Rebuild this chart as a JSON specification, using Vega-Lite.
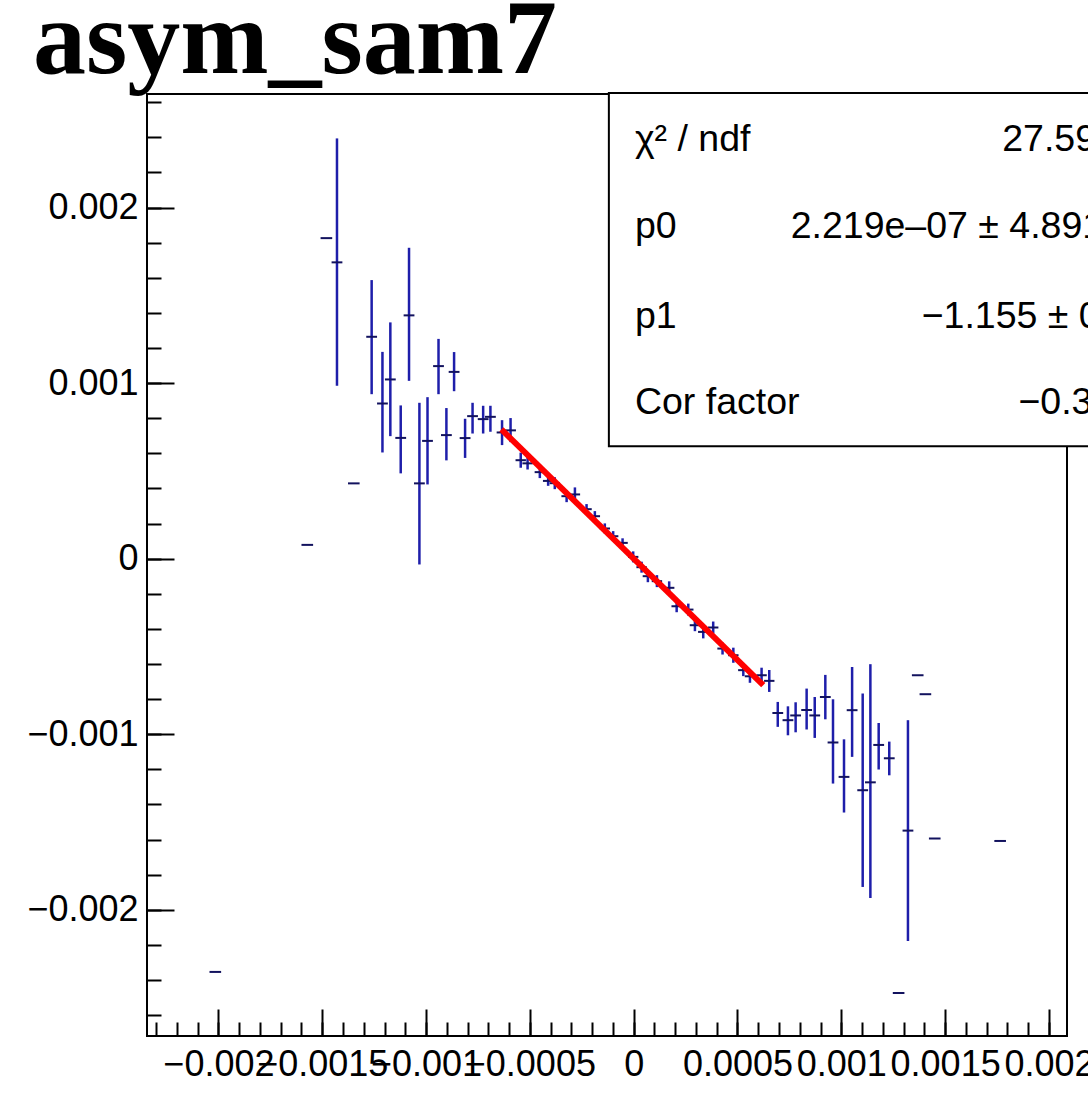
{
  "$schema": "https://vega.github.io/schema/vega-lite/v6.json",
  "width": 920,
  "height": 942,
  "autosize": "none",
  "padding": {"left": 147, "top": 94, "right": 21, "bottom": 67},
  "background": "white",
  "config": {
    "view": {"stroke": "black", "strokeWidth": 2},
    "axis": {"labelFont": "Liberation Sans", "labelFontSize": 36, "labelColor": "black", "tickColor": "black", "tickWidth": 2, "domain": false, "grid": false, "labelOverlap": false, "labelBound": false, "labelFlush": false}
  },
  "title": {"text": "asym_sam7", "font": "Liberation Serif", "fontWeight": "bold", "fontSize": 106, "color": "black", "anchor": "start", "frame": "group", "dx": -114, "offset": -3},
  "datasets": {
    "pts": [
      {"x": -0.002015, "y": -0.002354, "yt": -0.002354, "yb": -0.002354, "xe": 0.000028},
      {"x": -0.001572, "y": 0.0000786, "yt": 0.0000786, "yb": 0.0000786, "xe": 0.000028},
      {"x": -0.00148, "y": 0.001826, "yt": 0.001826, "yb": 0.001826, "xe": 0.000028},
      {"x": -0.001429, "y": 0.001688, "yt": 0.002394, "yb": 0.000985, "xe": 0.000026},
      {"x": -0.001348, "y": 0.000429, "yt": 0.000429, "yb": 0.000429, "xe": 0.000028},
      {"x": -0.001262, "y": 0.001264, "yt": 0.001587, "yb": 0.000937, "xe": 0.000026},
      {"x": -0.00121, "y": 0.000884, "yt": 0.001178, "yb": 0.000605, "xe": 0.000026},
      {"x": -0.001172, "y": 0.001021, "yt": 0.001346, "yb": 0.000698, "xe": 0.000026},
      {"x": -0.001122, "y": 0.000688, "yt": 0.000873, "yb": 0.000486, "xe": 0.000026},
      {"x": -0.001082, "y": 0.001386, "yt": 0.001771, "yb": 0.001013, "xe": 0.000026},
      {"x": -0.001032, "y": 0.000429, "yt": 0.000888, "yb": -0.000033, "xe": 0.000026},
      {"x": -0.000993, "y": 0.000671, "yt": 0.00092, "yb": 0.000423, "xe": 0.000026},
      {"x": -0.00094, "y": 0.001097, "yt": 0.001252, "yb": 0.000937, "xe": 0.000026},
      {"x": -0.000902, "y": 0.000704, "yt": 0.000858, "yb": 0.00056, "xe": 0.000026},
      {"x": -0.000865, "y": 0.001064, "yt": 0.001177, "yb": 0.000954, "xe": 0.000026},
      {"x": -0.000812, "y": 0.000687, "yt": 0.000797, "yb": 0.000574, "xe": 0.000026},
      {"x": -0.000776, "y": 0.000812, "yt": 0.000888, "yb": 0.000713, "xe": 0.000026},
      {"x": -0.000725, "y": 0.000795, "yt": 0.000871, "yb": 0.000713, "xe": 0.000026},
      {"x": -0.00069, "y": 0.000808, "yt": 0.000871, "yb": 0.000723, "xe": 0.000026},
      {"x": -0.000634, "y": 0.000719, "yt": 0.000789, "yb": 0.000647, "xe": 0.000026},
      {"x": -0.000593, "y": 0.000731, "yt": 0.000801, "yb": 0.000664, "xe": 0.000026},
      {"x": -0.000544, "y": 0.000561, "yt": 0.000604, "yb": 0.000518, "xe": 0.000025},
      {"x": -0.000511, "y": 0.000543, "yt": 0.000577, "yb": 0.000508, "xe": 0.000025},
      {"x": -0.000452, "y": 0.000493, "yt": 0.000527, "yb": 0.000459, "xe": 0.000025},
      {"x": -0.000412, "y": 0.000443, "yt": 0.000472, "yb": 0.000415, "xe": 0.000025},
      {"x": -0.00038, "y": 0.00043, "yt": 0.000464, "yb": 0.000396, "xe": 0.000025},
      {"x": -0.000323, "y": 0.000356, "yt": 0.00039, "yb": 0.000322, "xe": 0.000025},
      {"x": -0.000283, "y": 0.000366, "yt": 0.000406, "yb": 0.000326, "xe": 0.000025},
      {"x": -0.000227, "y": 0.000282, "yt": 0.000311, "yb": 0.000254, "xe": 0.000025},
      {"x": -0.000187, "y": 0.000242, "yt": 0.000271, "yb": 0.000214, "xe": 0.000025},
      {"x": -0.000139, "y": 0.000172, "yt": 0.000201, "yb": 0.000144, "xe": 0.000025},
      {"x": -0.0000988, "y": 0.000128, "yt": 0.000157, "yb": 0.0000997, "xe": 0.000025},
      {"x": -0.0000535, "y": 0.00009, "yt": 0.000116, "yb": 0.0000644, "xe": 0.000025},
      {"x": -0.0000024, "y": 0.0000103, "yt": 0.0000416, "yb": -0.000021, "xe": 0.000025},
      {"x": 0.0000381, "y": -0.0000484, "yt": -0.0000171, "yb": -0.0000797, "xe": 0.000025},
      {"x": 0.0000684, "y": -0.0000997, "yt": -0.0000655, "yb": -0.000134, "xe": 0.000025},
      {"x": 0.000112, "y": -0.000128, "yt": -0.0000938, "yb": -0.000162, "xe": 0.000025},
      {"x": 0.000171, "y": -0.000166, "yt": -0.000129, "yb": -0.000203, "xe": 0.000025},
      {"x": 0.000207, "y": -0.000271, "yt": -0.000237, "yb": -0.000305, "xe": 0.000025},
      {"x": 0.000263, "y": -0.00029, "yt": -0.000256, "yb": -0.000324, "xe": 0.000025},
      {"x": 0.000295, "y": -0.000379, "yt": -0.000345, "yb": -0.000413, "xe": 0.000025},
      {"x": 0.000335, "y": -0.000417, "yt": -0.00038, "yb": -0.000454, "xe": 0.000025},
      {"x": 0.000383, "y": -0.000392, "yt": -0.000358, "yb": -0.000426, "xe": 0.000025},
      {"x": 0.000428, "y": -0.000512, "yt": -0.000478, "yb": -0.000546, "xe": 0.000025},
      {"x": 0.00048, "y": -0.00055, "yt": -0.000507, "yb": -0.000593, "xe": 0.000025},
      {"x": 0.000528, "y": -0.000635, "yt": -0.000601, "yb": -0.000669, "xe": 0.000025},
      {"x": 0.00056, "y": -0.00067, "yt": -0.000633, "yb": -0.000707, "xe": 0.000025},
      {"x": 0.000616, "y": -0.000664, "yt": -0.000621, "yb": -0.000707, "xe": 0.000025},
      {"x": 0.000653, "y": -0.000696, "yt": -0.000634, "yb": -0.000759, "xe": 0.000025},
      {"x": 0.000694, "y": -0.000879, "yt": -0.000816, "yb": -0.000958, "xe": 0.000026},
      {"x": 0.000743, "y": -0.00092, "yt": -0.000841, "yb": -0.001006, "xe": 0.000026},
      {"x": 0.00078, "y": -0.000893, "yt": -0.000818, "yb": -0.000989, "xe": 0.000026},
      {"x": 0.000833, "y": -0.000862, "yt": -0.00074, "yb": -0.000973, "xe": 0.000026},
      {"x": 0.000872, "y": -0.000893, "yt": -0.000788, "yb": -0.001021, "xe": 0.000026},
      {"x": 0.000923, "y": -0.000788, "yt": -0.000662, "yb": -0.000915, "xe": 0.000026},
      {"x": 0.00096, "y": -0.001047, "yt": -0.000801, "yb": -0.001281, "xe": 0.000026},
      {"x": 0.001013, "y": -0.001243, "yt": -0.001029, "yb": -0.001446, "xe": 0.000026},
      {"x": 0.001052, "y": -0.000863, "yt": -0.000617, "yb": -0.001129, "xe": 0.000026},
      {"x": 0.001103, "y": -0.001319, "yt": -0.000768, "yb": -0.00187, "xe": 0.000026},
      {"x": 0.00114, "y": -0.001274, "yt": -0.000601, "yb": -0.001933, "xe": 0.000026},
      {"x": 0.00118, "y": -0.001061, "yt": -0.000936, "yb": -0.001201, "xe": 0.000026},
      {"x": 0.001231, "y": -0.001137, "yt": -0.001042, "yb": -0.001234, "xe": 0.000026},
      {"x": 0.001276, "y": -0.002474, "yt": -0.002474, "yb": -0.002474, "xe": 0.000028},
      {"x": 0.001321, "y": -0.001549, "yt": -0.00092, "yb": -0.002178, "xe": 0.000026},
      {"x": 0.001368, "y": -0.000664, "yt": -0.000664, "yb": -0.000664, "xe": 0.000028},
      {"x": 0.001405, "y": -0.000772, "yt": -0.000772, "yb": -0.000772, "xe": 0.000028},
      {"x": 0.00145, "y": -0.001594, "yt": -0.001594, "yb": -0.001594, "xe": 0.000028},
      {"x": 0.001765, "y": -0.001608, "yt": -0.001608, "yb": -0.001608, "xe": 0.000028}
    ],
    "fit": [
      {"fx": -0.000637, "fy": 0.000736},
      {"fx": 0.000624, "fy": -0.0007205}
    ],
    "box": [
      {"bx": -0.0001195, "bx2": 0.0026, "by": 0.002652, "by2": 0.000641}
    ],
    "stats": [
      {"label": "χ² / ndf", "lx": 0.0000058, "ly": 0.0023846, "val": "27.59 / 27", "vx": 0.001775},
      {"label": "p0", "lx": 0.0000058, "ly": 0.0018906, "val": "2.219e–07 ± 4.891e–05", "vx": 0.000756},
      {"label": "p1", "lx": 0.0000058, "ly": 0.0013778, "val": "−1.155 ± 0.03", "vx": 0.001387},
      {"label": "Cor factor", "lx": 0.0000058, "ly": 0.0008843, "val": "−0.3", "vx": 0.001853}
    ]
  },
  "resolve": {"axis": {"x": "independent", "y": "independent"}},
  "layer": [
    {
      "data": {"name": "pts"},
      "mark": {"type": "rule", "color": "#1e1eaa", "strokeWidth": 2.5},
      "encoding": {
        "x": {"field": "x", "type": "quantitative", "scale": {"domain": [-0.002344, 0.002087], "nice": false, "zero": false},
          "axis": {"orient": "bottom", "title": null, "values": [-0.002, -0.0015, -0.001, -0.0005, 0, 0.0005, 0.001, 0.0015, 0.002], "format": ".4~f", "tickSize": -27, "labelPadding": 38}},
        "y": {"field": "yt", "type": "quantitative", "scale": {"domain": [-0.002719, 0.002647], "nice": false, "zero": false},
          "axis": {"orient": "left", "title": null, "values": [-0.002, -0.001, 0, 0.001, 0.002], "format": ".3~f", "tickSize": -27, "labelPadding": 36}},
        "y2": {"field": "yb"}
      }
    },
    {
      "data": {"name": "pts"},
      "mark": {"type": "errorbar", "color": "#12125e", "thickness": 2},
      "encoding": {
        "x": {"field": "x", "type": "quantitative", "axis": null},
        "xError": {"field": "xe"},
        "y": {"field": "y", "type": "quantitative", "axis": null}
      }
    },
    {
      "data": {"name": "fit"},
      "mark": {"type": "line", "color": "#ff0000", "strokeWidth": 6},
      "encoding": {
        "x": {"field": "fx", "type": "quantitative",
          "axis": {"orient": "bottom", "title": null, "labels": false, "tickSize": -14, "values": [-0.0023, -0.0022, -0.0021, -0.002, -0.0019, -0.0018, -0.0017, -0.0016, -0.0015, -0.0014, -0.0013, -0.0012, -0.0011, -0.001, -0.0009, -0.0008, -0.0007, -0.0006, -0.0005, -0.0004, -0.0003, -0.0002, -0.0001, 0, 0.0001, 0.0002, 0.0003, 0.0004, 0.0005, 0.0006, 0.0007, 0.0008, 0.0009, 0.001, 0.0011, 0.0012, 0.0013, 0.0014, 0.0015, 0.0016, 0.0017, 0.0018, 0.0019, 0.002]}},
        "y": {"field": "fy", "type": "quantitative",
          "axis": {"orient": "left", "title": null, "labels": false, "tickSize": -14, "values": [-0.0026, -0.0024, -0.0022, -0.002, -0.0018, -0.0016, -0.0014, -0.0012, -0.001, -0.0008, -0.0006, -0.0004, -0.0002, 0, 0.0002, 0.0004, 0.0006, 0.0008, 0.001, 0.0012, 0.0014, 0.0016, 0.0018, 0.002, 0.0022, 0.0024, 0.0026]}}
      }
    },
    {
      "data": {"name": "box"},
      "mark": {"type": "rect", "fill": "white", "stroke": "black", "strokeWidth": 2},
      "encoding": {
        "x": {"field": "bx", "type": "quantitative", "axis": null},
        "x2": {"field": "bx2"},
        "y": {"field": "by", "type": "quantitative", "axis": null},
        "y2": {"field": "by2"}
      }
    },
    {
      "data": {"name": "stats"},
      "mark": {"type": "text", "font": "Liberation Sans", "fontSize": 37.5, "align": "left", "baseline": "middle", "color": "black"},
      "encoding": {
        "x": {"field": "lx", "type": "quantitative", "axis": null},
        "y": {"field": "ly", "type": "quantitative", "axis": null},
        "text": {"field": "label"}
      }
    },
    {
      "data": {"name": "stats"},
      "mark": {"type": "text", "font": "Liberation Sans", "fontSize": 37.5, "align": "left", "baseline": "middle", "color": "black"},
      "encoding": {
        "x": {"field": "vx", "type": "quantitative", "axis": null},
        "y": {"field": "ly", "type": "quantitative", "axis": null},
        "text": {"field": "val"}
      }
    }
  ]
}
